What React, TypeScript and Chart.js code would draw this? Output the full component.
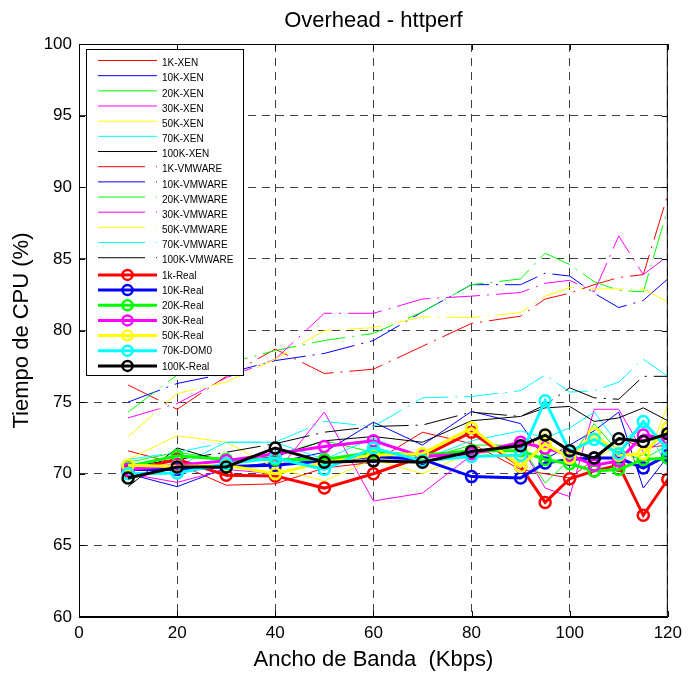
import React, { useEffect, useRef } from "react";
import { Chart, registerables } from "chart.js";
Chart.register(...registerables);

const FONT = "'Liberation Sans', Arial, Helvetica, sans-serif";

const xValues = [10, 20, 30, 40, 50, 60, 70, 80, 90, 95, 100, 105, 110, 115, 120];
const xTicks = [0, 20, 40, 60, 80, 100, 120];
const yTicks = [60, 65, 70, 75, 80, 85, 90, 95, 100];

const xen1k = [71.6, 70.7, 69.2, 69.3, 70.4, 70.8, 72.9, 72.1, 70.3, 70.0, 69.7, 71.0, 72.5, 71.8, 72.0];
const xen10k = [70.0, 69.1, 70.4, 70.8, 71.5, 73.6, 72.0, 74.35, 73.5, 71.0, 72.0, 73.0, 74.3, 69.0, 71.2];
const xen20k = [70.8, 71.5, 71.0, 71.3, 72.3, 71.5, 71.0, 72.0, 72.0, 69.35, 71.0, 73.5, 71.5, 71.0, 72.0];
const xen30k = [70.0, 69.4, 70.3, 70.0, 74.3, 68.1, 68.65, 71.3, 72.0, 69.0, 68.4, 74.5, 74.5, 71.5, 72.5];
const xen50k = [71.0, 72.65, 72.2, 70.4, 69.5, 71.0, 70.0, 71.5, 71.0, 73.0, 71.2, 71.0, 72.0, 70.4, 74.8];
const xen70k = [70.3, 70.5, 72.2, 72.2, 71.0, 72.5, 71.0, 72.3, 73.0, 72.5, 73.2, 74.3, 72.0, 73.5, 70.5];
const xen100k = [69.1, 71.8, 70.8, 71.2, 72.3, 72.6, 72.2, 73.7, 74.0, 74.6, 74.7, 73.65, 73.9, 74.6, 73.7];

const vm1k = [76.2, 74.5, 76.8, 78.7, 77.0, 77.3, 78.9, 80.5, 81.0, 82.2, 82.6, 83.2, 83.7, 83.9, 89.5];
const vm10k = [75.0, 76.3, 77.0, 77.9, 78.4, 79.3, 81.3, 83.2, 83.2, 84.0, 83.8, 82.6, 81.6, 82.1, 83.6];
const vm20k = [74.3, 76.9, 77.7, 78.6, 79.3, 79.8, 81.3, 83.2, 83.6, 85.4, 84.6, 83.4, 82.8, 82.7, 88.5];
const vm30k = [73.9, 74.9, 76.7, 78.0, 81.2, 81.2, 82.2, 82.4, 82.65, 83.3, 83.5, 82.7, 86.6, 83.9, 85.2];
const vm50k = [72.6, 75.6, 76.4, 78.0, 80.0, 80.2, 80.95, 80.9, 81.25, 82.4, 83.0, 82.9, 82.9, 82.9, 82.0];
const vm70k = [71.0, 71.5, 72.2, 72.2, 73.65, 73.3, 75.3, 75.4, 75.8, 76.9, 75.7, 75.8, 76.4, 78.0, 76.8];
const vm100k = [70.5, 71.0, 71.5, 72.1, 72.9, 73.3, 73.4, 74.3, 74.0, 74.8, 76.0, 75.3, 75.2, 76.8, 76.8];

const real1k = [70.2, 71.0, 69.9, 69.85, 69.0, 70.0, 71.2, 72.9, 70.5, 68.0, 69.65, 70.2, 70.6, 67.1, 69.6];
const real10k = [70.3, 70.3, 70.5, 70.6, 70.9, 71.2, 71.0, 69.8, 69.7, 70.75, 71.0, 71.1, 71.1, 70.4, 71.3];
const real20k = [70.5, 71.25, 71.0, 71.0, 71.0, 71.5, 71.3, 71.6, 71.6, 71.0, 70.7, 70.2, 70.3, 71.0, 71.1];
const real30k = [70.3, 70.6, 70.9, 71.4, 71.9, 72.3, 71.2, 71.4, 72.2, 71.8, 71.3, 70.6, 70.9, 72.7, 72.5];
const real50k = [70.6, 70.5, 70.6, 70.0, 70.8, 71.3, 71.4, 73.2, 70.5, 72.1, 71.1, 72.8, 71.3, 71.4, 73.2];
const dom70k = [70.0, 70.05, 70.7, 71.1, 70.3, 71.8, 70.9, 71.2, 71.3, 75.1, 71.55, 72.4, 71.4, 73.65, 71.7];
const real100k = [69.7, 70.47, 70.47, 71.8, 70.8, 70.9, 70.8, 71.55, 71.95, 72.7, 71.6, 71.1, 72.45, 72.25, 72.8];

const RED = "#ff0000", BLUE = "#0000ff", GREEN = "#00ff00", MAG = "#ff00ff", YEL = "#ffff00", CYAN = "#00ffff", BLK = "#000000";

type Kind = "xen" | "vm" | "real";
const series: { label: string; values: number[]; color: string; kind: Kind }[] = [
  { label: "1K-XEN", values: xen1k, color: RED, kind: "xen" },
  { label: "10K-XEN", values: xen10k, color: BLUE, kind: "xen" },
  { label: "20K-XEN", values: xen20k, color: GREEN, kind: "xen" },
  { label: "30K-XEN", values: xen30k, color: MAG, kind: "xen" },
  { label: "50K-XEN", values: xen50k, color: YEL, kind: "xen" },
  { label: "70K-XEN", values: xen70k, color: CYAN, kind: "xen" },
  { label: "100K-XEN", values: xen100k, color: BLK, kind: "xen" },
  { label: "1K-VMWARE", values: vm1k, color: RED, kind: "vm" },
  { label: "10K-VMWARE", values: vm10k, color: BLUE, kind: "vm" },
  { label: "20K-VMWARE", values: vm20k, color: GREEN, kind: "vm" },
  { label: "30K-VMWARE", values: vm30k, color: MAG, kind: "vm" },
  { label: "50K-VMWARE", values: vm50k, color: YEL, kind: "vm" },
  { label: "70K-VMWARE", values: vm70k, color: CYAN, kind: "vm" },
  { label: "100K-VMWARE", values: vm100k, color: BLK, kind: "vm" },
  { label: "1k-Real", values: real1k, color: RED, kind: "real" },
  { label: "10K-Real", values: real10k, color: BLUE, kind: "real" },
  { label: "20K-Real", values: real20k, color: GREEN, kind: "real" },
  { label: "30K-Real", values: real30k, color: MAG, kind: "real" },
  { label: "50K-Real", values: real50k, color: YEL, kind: "real" },
  { label: "70K-DOM0", values: dom70k, color: CYAN, kind: "real" },
  { label: "100K-Real", values: real100k, color: BLK, kind: "real" },
];

const VM_DASH = [34, 7, 2, 7];

const titlePlugin = {
  id: "mtitle",
  afterDraw(chart: any) {
    const { ctx, chartArea } = chart;
    ctx.save();
    ctx.fillStyle = "#000";
    ctx.font = `22px ${FONT}`;
    ctx.textAlign = "center";
    ctx.textBaseline = "middle";
    ctx.fillText("Overhead - httperf", (chartArea.left + chartArea.right) / 2, 21);
    ctx.restore();
  },
};

const framePlugin = {
  id: "mframe",
  afterDatasetsDraw(chart: any) {
    const { ctx, chartArea: a, scales } = chart;
    ctx.save();
    ctx.strokeStyle = "#000";
    ctx.lineWidth = 1;
    ctx.setLineDash([]);
    ctx.strokeRect(a.left + 0.5, a.top + 0.5, a.right - a.left - 1, a.bottom - a.top - 1);
    const L = 6;
    ctx.beginPath();
    xTicks.forEach((v) => {
      const px = Math.round(scales.x.getPixelForValue(v)) + 0.5;
      ctx.moveTo(px, a.bottom);
      ctx.lineTo(px, a.bottom - L);
      ctx.moveTo(px, a.top);
      ctx.lineTo(px, a.top + L);
    });
    yTicks.forEach((v) => {
      const py = Math.round(scales.y.getPixelForValue(v)) + 0.5;
      ctx.moveTo(a.left, py);
      ctx.lineTo(a.left + L, py);
      ctx.moveTo(a.right, py);
      ctx.lineTo(a.right - L, py);
    });
    ctx.stroke();
    ctx.restore();
  },
};

const legendPlugin = {
  id: "mlegend",
  afterDraw(chart: any) {
    const { ctx } = chart;
    const bx = 86.5, by = 49.5, bw = 157, bh = 326;
    ctx.save();
    ctx.fillStyle = "#fff";
    ctx.fillRect(bx, by, bw, bh);
    ctx.strokeStyle = "#000";
    ctx.lineWidth = 1;
    ctx.setLineDash([]);
    ctx.strokeRect(bx, by, bw, bh);
    ctx.font = `10px ${FONT}`;
    ctx.textBaseline = "middle";
    ctx.textAlign = "left";
    chart.data.datasets.forEach((ds: any, i: number) => {
      const y = 62.5 + i * 15.17;
      const s = series[i];
      ctx.strokeStyle = ds.borderColor;
      ctx.setLineDash([]);
      if (s.kind === "xen") {
        ctx.lineWidth = 1;
        ctx.beginPath();
        ctx.moveTo(98, y - 2);
        ctx.lineTo(157, y - 2);
        ctx.stroke();
      } else if (s.kind === "vm") {
        ctx.lineWidth = 1;
        ctx.beginPath();
        ctx.moveTo(98, y - 2);
        ctx.lineTo(145, y - 2);
        ctx.moveTo(156, y - 2);
        ctx.lineTo(157, y - 2);
        ctx.stroke();
      } else {
        ctx.lineWidth = 3;
        ctx.beginPath();
        ctx.moveTo(98, y);
        ctx.lineTo(157, y);
        ctx.stroke();
        ctx.lineWidth = 2.5;
        ctx.beginPath();
        ctx.arc(127.5, y, 5, 0, Math.PI * 2);
        ctx.stroke();
      }
      ctx.fillStyle = "#000";
      ctx.fillText(ds.label, 162, y + 1);
    });
    ctx.restore();
  },
};

export default function App() {
  const ref = useRef<HTMLCanvasElement | null>(null);
  useEffect(() => {
    if (!ref.current) return;
    const n = series.length;
    const datasets = series.map((s, i) => {
      const base: any = {
        label: s.label,
        data: xValues.map((x, j) => ({ x, y: s.values[j] })),
        borderColor: s.color,
        backgroundColor: "transparent",
        fill: false,
        tension: 0,
        order: n - i,
      };
      if (s.kind === "xen") {
        return { ...base, borderWidth: 1, pointRadius: 0 };
      }
      if (s.kind === "vm") {
        return { ...base, borderWidth: 1, pointRadius: 0, borderDash: VM_DASH };
      }
      return {
        ...base,
        borderWidth: 3,
        pointRadius: 5.5,
        pointBorderWidth: 2.5,
        pointBorderColor: s.color,
        pointBackgroundColor: "rgba(0,0,0,0)",
        pointStyle: "circle",
      };
    });
    const chart = new Chart(ref.current, {
      type: "line",
      data: { datasets },
      options: {
        animation: false,
        responsive: false,
        devicePixelRatio: 1,
        layout: { padding: { top: 44, right: 18, left: 0, bottom: 0 } },
        plugins: {
          legend: { display: false },
          title: { display: false },
          tooltip: { enabled: false },
        },
        scales: {
          x: {
            type: "linear",
            min: 0,
            max: 120,
            afterBuildTicks: (s: any) => {
              s.ticks = xTicks.map((v) => ({ value: v }));
            },
            afterFit: (s: any) => {
              s.height = 56;
            },
            ticks: {
              padding: 6,
              color: "#000",
              font: { size: 17, family: FONT },
              maxRotation: 0,
              autoSkip: false,
            },
            grid: { color: "rgba(0,0,0,0.75)", lineWidth: 1, drawTicks: false },
            border: { display: true, color: "#000", dash: [8, 6] },
            title: {
              display: true,
              text: "Ancho de Banda  (Kbps)",
              color: "#000",
              font: { size: 22, family: FONT },
              padding: { top: 0, bottom: 0 },
            },
          },
          y: {
            type: "linear",
            min: 60,
            max: 100,
            afterBuildTicks: (s: any) => {
              s.ticks = yTicks.map((v) => ({ value: v }));
            },
            afterFit: (s: any) => {
              s.width = 79;
            },
            ticks: {
              padding: 7,
              color: "#000",
              font: { size: 17, family: FONT },
              autoSkip: false,
            },
            grid: { color: "rgba(0,0,0,0.75)", lineWidth: 1, drawTicks: false },
            border: { display: true, color: "#000", dash: [8, 6] },
            title: {
              display: true,
              text: "Tiempo de CPU (%)",
              color: "#000",
              font: { size: 22, family: FONT },
              padding: { top: 9, bottom: 0 },
            },
          },
        },
      },
      plugins: [titlePlugin, framePlugin, legendPlugin],
    } as any);
    return () => chart.destroy();
  }, []);
  return (
    <div style={{ position: "absolute", left: 0, top: 0, width: 688, height: 673, background: "#fff" }}>
      <canvas ref={ref} width={688} height={673} style={{ display: "block", width: 688, height: 673 }} />
    </div>
  );
}
